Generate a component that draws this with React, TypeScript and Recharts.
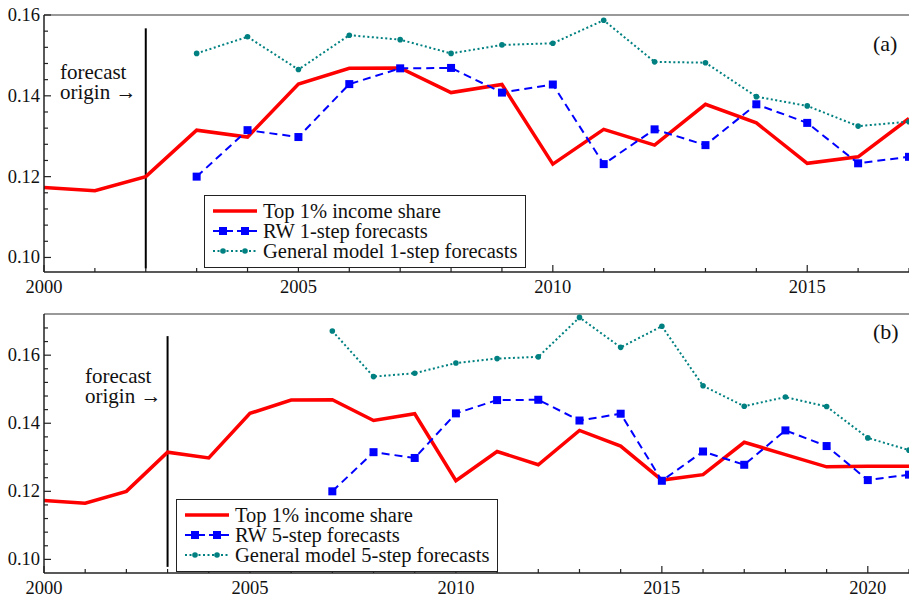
import { LineChart, Line, XAxis, YAxis, ReferenceLine, Legend } from "recharts";

// top 1% income share, 2000-2021
const shareYears = [
  2000, 2001, 2002, 2003, 2004, 2005, 2006, 2007, 2008, 2009, 2010,
  2011, 2012, 2013, 2014, 2015, 2016, 2017, 2018, 2019, 2020, 2021,
];
const topShare = [
  0.1173, 0.1165, 0.12, 0.1315, 0.1298, 0.1429, 0.1468, 0.1469, 0.1408, 0.1428, 0.1231,
  0.1317, 0.1278, 0.1379, 0.1333, 0.1233, 0.1249, 0.1344, 0.1308, 0.1272, 0.1274, 0.1274,
];

// 1-step forecasts (panel a)
const oneStepYears = [2003, 2004, 2005, 2006, 2007, 2008, 2009, 2010, 2011, 2012, 2013, 2014, 2015, 2016, 2017];
const rw1 = [0.12, 0.1315, 0.1298, 0.1429, 0.1468, 0.1469, 0.1408, 0.1428, 0.1231, 0.1317, 0.1278, 0.1379, 0.1333, 0.1233, 0.1249];
const gm1 = [0.1505, 0.1546, 0.1465, 0.155, 0.1539, 0.1505, 0.1526, 0.153, 0.1587, 0.1484, 0.1482, 0.1398, 0.1375, 0.1325, 0.1336];

// 5-step forecasts (panel b)
const fiveStepYears = [2007, 2008, 2009, 2010, 2011, 2012, 2013, 2014, 2015, 2016, 2017, 2018, 2019, 2020, 2021];
const rw5 = [0.12, 0.1315, 0.1298, 0.1429, 0.1468, 0.1469, 0.1408, 0.1428, 0.1231, 0.1317, 0.1278, 0.1379, 0.1333, 0.1233, 0.1249];
const gm5 = [0.1671, 0.1537, 0.1547, 0.1577, 0.159, 0.1595, 0.1711, 0.1623, 0.1685, 0.151, 0.145, 0.1477, 0.1449, 0.1357, 0.1321];

// axis ticks
const yearTicksA = [2000, 2001, 2002, 2003, 2004, 2005, 2006, 2007, 2008, 2009, 2010, 2011, 2012, 2013, 2014, 2015, 2016, 2017];
const yearTicksB = [...yearTicksA, 2018, 2019, 2020, 2021];
const labelledYears = [2000, 2005, 2010, 2015, 2020];
const shareTicksA = [0.1, 0.104, 0.108, 0.112, 0.116, 0.12, 0.124, 0.128, 0.132, 0.136, 0.14, 0.144, 0.148, 0.152, 0.156, 0.16];
const shareTicksB = [...shareTicksA, 0.164, 0.168];
const labelledShares = [0.1, 0.12, 0.14, 0.16];

const RED = "#ff0000";
const BLUE = "#0000ff";
const TEAL = "#008080";
const AXIS = "#222";

const zip = (xs: number[], ys: number[]) => xs.map((year, i) => ({ year, value: ys[i] }));

function YearTick(props: any) {
  const { x, y, payload, labelGap } = props;
  const major = labelledYears.includes(payload.value);
  return (
    <g>
      <line x1={x} x2={x} y1={y} y2={y - (major ? 7 : 4)} stroke={AXIS} strokeWidth={1.2} />
      {major && (
        <text x={x} y={y + labelGap} textAnchor="middle" fontSize={18.5} fill="#111">
          {payload.value}
        </text>
      )}
    </g>
  );
}

function ShareTick(props: any) {
  const { x, y, payload } = props;
  const major = labelledShares.some((v) => Math.abs(v - payload.value) < 1e-9);
  return (
    <g>
      <line x1={x} x2={x + (major ? 7 : 4)} y1={y} y2={y} stroke={AXIS} strokeWidth={1.2} />
      {major && (
        <text x={x - 4} y={y + 6} textAnchor="end" fontSize={18.5} fill="#111">
          {payload.value.toFixed(2)}
        </text>
      )}
    </g>
  );
}

const squareDot = (p: any) => {
  if (p.cx == null || p.cy == null) return <g key={`sq-${p.index}`} />;
  return <rect key={`sq-${p.index}`} x={p.cx - 4} y={p.cy - 4} width={8} height={8} fill={BLUE} />;
};

function Swatch({ kind }: { kind: string }) {
  return (
    <svg width={44} height={20} style={{ display: "block", flex: "none" }}>
      {kind === "share" && <line x1={0} x2={44} y1={10} y2={10} stroke={RED} strokeWidth={3.5} />}
      {kind === "rw" && (
        <g>
          <line x1={0} x2={44} y1={10} y2={10} stroke={BLUE} strokeWidth={2} strokeDasharray="8 4" />
          <rect x={6} y={6} width={8} height={8} fill={BLUE} />
          <rect x={28} y={6} width={8} height={8} fill={BLUE} />
        </g>
      )}
      {kind === "gm" && (
        <g>
          <line x1={0} x2={44} y1={10} y2={10} stroke={TEAL} strokeWidth={2} strokeDasharray="2 2.5" />
          <circle cx={10} cy={10} r={2.8} fill={TEAL} />
          <circle cx={32} cy={10} r={2.8} fill={TEAL} />
        </g>
      )}
    </svg>
  );
}

function PanelLegend({ items }: { items: { kind: string; name: string }[] }) {
  return (
    <div
      style={{
        display: "inline-block",
        border: `1.3px solid ${AXIS}`,
        background: "#fff",
        padding: "5px 8px 6px 8px",
        fontSize: 20.5,
        color: "#111",
      }}
    >
      {items.map((it) => (
        <div key={it.kind} style={{ display: "flex", alignItems: "center", height: 20, whiteSpace: "nowrap" }}>
          <Swatch kind={it.kind} />
          <span style={{ marginLeft: 6, lineHeight: "20px" }}>{it.name}</span>
        </div>
      ))}
    </div>
  );
}

function Panel(props: {
  steps: number;
  tag: string;
  height: number;
  top: number;
  plotTop: number;
  axisHeight: number;
  labelGap: number;
  xMax: number;
  yDomain: [number, number];
  yTicks: number[];
  xTicks: number[];
  origin: number;
  originSpan: [number, number];
  textX: number;
  textY: number;
  tagY: number;
  legendPos: { left: number; top: number };
  shareCount: number;
  fYears: number[];
  rw: number[];
  gm: number[];
}) {
  const items = [
    { kind: "share", name: "Top 1% income share" },
    { kind: "rw", name: `RW ${props.steps}-step forecasts` },
    { kind: "gm", name: `General model ${props.steps}-step forecasts` },
  ];
  return (
    <div style={{ position: "absolute", left: 0, top: props.top }}>
      <LineChart width={909} height={props.height} margin={{ top: props.plotTop, right: 0, bottom: 0, left: 0 }}>
        <XAxis
          type="number"
          dataKey="year"
          domain={[2000, props.xMax]}
          allowDataOverflow
          ticks={props.xTicks}
          interval={0}
          height={props.axisHeight}
          tickSize={0}
          tickMargin={0}
          tickLine={false}
          axisLine={{ stroke: AXIS, strokeWidth: 1.5 }}
          tick={<YearTick labelGap={props.labelGap} />}
        />
        <YAxis
          type="number"
          domain={props.yDomain}
          allowDataOverflow
          ticks={props.yTicks}
          interval={0}
          width={44}
          tickSize={0}
          tickMargin={0}
          tickLine={false}
          axisLine={{ stroke: AXIS, strokeWidth: 1.5 }}
          tick={<ShareTick />}
        />
        <ReferenceLine y={props.yDomain[1]} stroke="#777" strokeWidth={1.5} />
        {/* forecast origin marker */}
        <ReferenceLine
          segment={[
            { x: props.origin, y: props.originSpan[0] },
            { x: props.origin, y: props.originSpan[1] },
          ]}
          stroke="#000"
          strokeWidth={2}
        />
        <Line
          data={zip(shareYears.slice(0, props.shareCount), topShare.slice(0, props.shareCount))}
          dataKey="value"
          name={items[0].name}
          stroke={RED}
          strokeWidth={3.5}
          strokeLinejoin="miter"
          dot={false}
          isAnimationActive={false}
        />
        <Line
          data={zip(props.fYears, props.rw)}
          dataKey="value"
          name={items[1].name}
          stroke={BLUE}
          strokeWidth={2}
          strokeDasharray="8 5"
          dot={squareDot}
          isAnimationActive={false}
        />
        <Line
          data={zip(props.fYears, props.gm)}
          dataKey="value"
          name={items[2].name}
          stroke={TEAL}
          strokeWidth={2}
          strokeDasharray="2 2.5"
          dot={{ r: 2.8, fill: TEAL, stroke: "none" }}
          isAnimationActive={false}
        />
        <text x={props.textX} y={props.textY} fontSize={21} fill="#111">forecast</text>
        <text x={props.textX} y={props.textY + 20} fontSize={21} fill="#111">origin →</text>
        <text x={873} y={props.tagY} fontSize={22} fill="#111">{props.tag}</text>
        <Legend
          layout="horizontal"
          verticalAlign="middle"
          align="center"
          wrapperStyle={{ left: props.legendPos.left, top: props.legendPos.top, width: "auto" }}
          content={() => <PanelLegend items={items} />}
        />
      </LineChart>
    </div>
  );
}

export default function App() {
  return (
    <div
      style={{
        position: "absolute",
        left: 0,
        top: 0,
        width: 909,
        height: 598,
        background: "#fff",
        fontFamily: '"Liberation Serif", "Times New Roman", serif',
      }}
    >
      <Panel
        steps={1}
        tag="(a)"
        top={0}
        plotTop={15}
        height={300}
        axisHeight={28}
        labelGap={21}
        xMax={2017}
        yDomain={[0.0964, 0.16]}
        yTicks={shareTicksA}
        xTicks={yearTicksA}
        origin={2002}
        originSpan={[0.0973, 0.1567]}
        textX={60}
        textY={79}
        tagY={51}
        legendPos={{ left: 204, top: 195 }}
        shareCount={18}
        fYears={oneStepYears}
        rw={rw1}
        gm={gm1}
      />
      <Panel
        steps={5}
        tag="(b)"
        top={300}
        plotTop={14}
        height={298}
        axisHeight={25}
        labelGap={20.5}
        xMax={2021}
        yDomain={[0.096, 0.1721]}
        yTicks={shareTicksB}
        xTicks={yearTicksB}
        origin={2003}
        originSpan={[0.0978, 0.1656]}
        textX={85}
        textY={83}
        tagY={39}
        legendPos={{ left: 176, top: 199 }}
        shareCount={22}
        fYears={fiveStepYears}
        rw={rw5}
        gm={gm5}
      />
    </div>
  );
}
